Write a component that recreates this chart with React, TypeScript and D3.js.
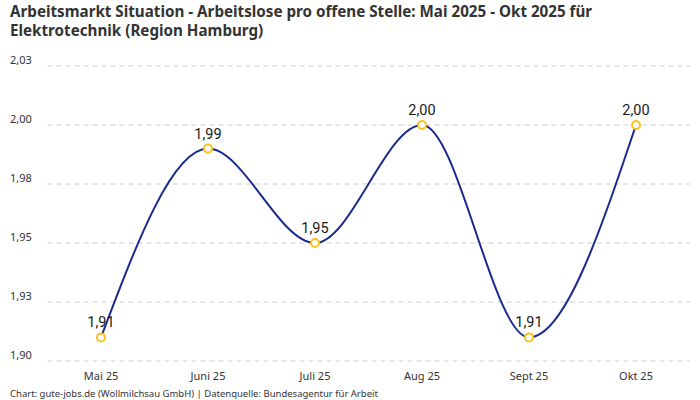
import * as d3 from "d3";

const width = 700;
const height = 400;
const margin = { top: 66, right: 10, bottom: 39, left: 47.5 };

const months = ["Mai 25", "Juni 25", "Juli 25", "Aug 25", "Sept 25", "Okt 25"];
const ratios = [1.91, 1.99, 1.95, 2.0, 1.91, 2.0];
const yTicks = [1.9, 1.925, 1.95, 1.975, 2.0, 2.025];
const yTickLabels = ["1,90", "1,93", "1,95", "1,98", "2,00", "2,03"];

const titleLines = [
  "Arbeitsmarkt Situation - Arbeitslose pro offene Stelle: Mai 2025 - Okt 2025 für",
  "Elektrotechnik (Region Hamburg)",
];
const footer = "Chart: gute-jobs.de (Wollmilchsau GmbH) | Datenquelle: Bundesagentur für Arbeit";

const uiFont = "'Noto Sans', 'Open Sans', sans-serif";
const labelFont = "Roboto, 'Liberation Sans', Arial, sans-serif";

type Point = { month: string; value: number };

const points: Point[] = months.map((month, i) => ({ month, value: ratios[i] }));

export default function App() {
  const x = d3
    .scaleBand<string>()
    .domain(months)
    .range([margin.left, 689.5]);

  const y = d3
    .scaleLinear()
    .domain([1.9, 2.025])
    .range([height - margin.bottom, margin.top]);

  const cx = (m: string) => (x(m) ?? 0) + x.bandwidth() / 2;

  const line = d3
    .line<Point>()
    .x((d) => cx(d.month))
    .y((d) => y(d.value))
    .curve(d3.curveMonotoneX);

  const fmt = (v: number) => v.toFixed(2).replace(".", ",");

  return (
    <svg
      width={width}
      height={height}
      viewBox={`0 0 ${width} ${height}`}
      style={{ position: "absolute", left: 0, top: 0, background: "#fff" }}
    >
      {/* Titel */}
      {titleLines.map((t, i) => (
        <text
          key={t}
          x={10}
          y={17 + i * 19}
          fontFamily={uiFont}
          fontSize={15.2}
          fontWeight={700}
          fill="#333"
        >
          {t}
        </text>
      ))}

      {/* Gitterlinien + y-Achse */}
      {yTicks.map((t, i) => (
        <g key={t}>
          <line
            x1={margin.left}
            x2={width - margin.right}
            y1={y(t)}
            y2={y(t)}
            stroke="#ccc"
            strokeDasharray="5,4"
          />
          <text
            x={10}
            y={y(t)}
            dy="-0.2em"
            fontFamily={uiFont}
            fontSize={11}
            fill="#333"
          >
            {yTickLabels[i]}
          </text>
        </g>
      ))}

      {/* x-Achse */}
      {months.map((m) => (
        <text
          key={m}
          x={cx(m)}
          y={380}
          textAnchor="middle"
          fontFamily={uiFont}
          fontSize={11}
          fill="#333"
        >
          {m}
        </text>
      ))}

      {/* Linie */}
      <path d={line(points) ?? ""} fill="none" stroke="#1a2a8c" strokeWidth={2} />

      {/* Punkte */}
      {points.map((d) => (
        <circle
          key={d.month}
          cx={cx(d.month)}
          cy={y(d.value)}
          r={4}
          fill="#fff"
          stroke="#fcc21b"
          strokeWidth={2}
        />
      ))}

      {/* Datenbeschriftung */}
      {points.map((d) => (
        <text
          key={d.month}
          x={cx(d.month)}
          y={y(d.value) - 10}
          textAnchor="middle"
          fontFamily={labelFont}
          fontSize={14.5}
          fontWeight={400}
          fill="#1a1a1a"
        >
          {fmt(d.value)}
        </text>
      ))}

      {/* Fußzeile */}
      <text x={10} y={397} fontFamily={uiFont} fontSize={9.5} fill="#333">
        {footer}
      </text>
    </svg>
  );
}
